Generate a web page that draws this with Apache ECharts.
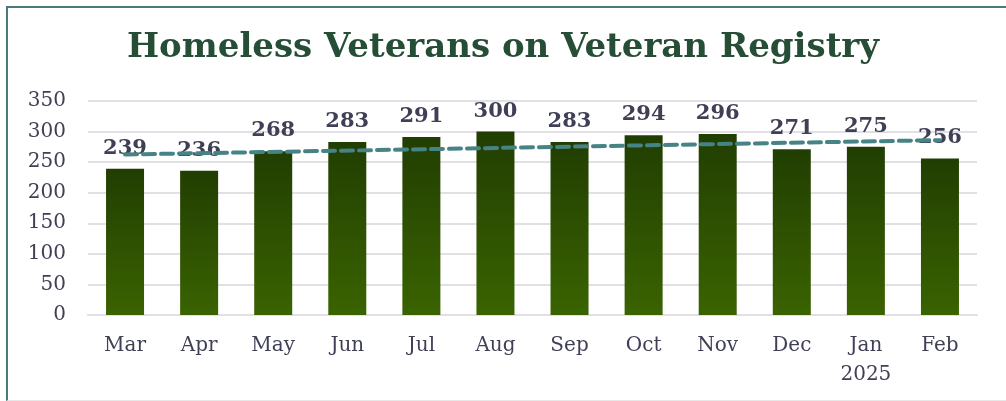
<!DOCTYPE html>
<html>
<head>
<meta charset="utf-8">
<script src="https://cdn.jsdelivr.net/npm/echarts@6/dist/echarts.min.js"></script>
<style>
html,body{margin:0;padding:0;background:#fff;}
#wrap{position:relative;width:1006px;height:401px;overflow:hidden;}
#chart{position:absolute;left:0;top:0;width:1006px;height:401px;}
#frame{position:absolute;left:6px;top:6px;width:1010px;height:392px;border-top:2px solid #4b7a7a;border-left:2px solid #4b7a7a;border-bottom:1px solid #e6e8e8;pointer-events:none;}
</style>
</head>
<body>
<div id="wrap"><div id="chart"></div><div id="frame"></div></div>
<script>
var titleText = 'Homeless Veterans on Veteran Registry';
var categories = ['Mar','Apr','May','Jun','Jul','Aug','Sep','Oct','Nov','Dec','Jan\n2025','Feb'];
var veterans = [239,236,268,283,291,300,283,294,296,271,275,256];
var trendStart = 262.5;
var trendEnd = 286;
var yMin = 0, yMax = 350, yStep = 50;

var trendData = categories.map(function(c,i){
  if(i===0) return trendStart;
  if(i===categories.length-1) return trendEnd;
  return null;
});

var serif = 'DejaVu Serif';
var chart = echarts.init(document.getElementById('chart'));
chart.setOption({
  animation:false,
  backgroundColor:'#fff',
  title:{
    text:titleText,
    left:'center',
    top:26,
    textStyle:{fontFamily:serif,fontWeight:'bold',fontSize:34,color:'#264d35'}
  },
  grid:{left:88,right:29,top:101,bottom:86},
  xAxis:{
    type:'category',
    data:categories,
    axisLine:{show:true,lineStyle:{color:'#e0e0e6',width:2}},
    axisTick:{show:false},
    axisLabel:{fontFamily:serif,fontSize:20,color:'#3f3f55',margin:16,lineHeight:29}
  },
  yAxis:{
    type:'value',
    min:yMin,max:yMax,interval:yStep,
    axisLine:{show:false},
    axisTick:{show:false},
    splitLine:{lineStyle:{color:'#e0e0e6',width:2}},
    axisLabel:{fontFamily:serif,fontSize:20,color:'#3f3f55',margin:22,padding:[7,0,0,0]}
  },
  series:[
    {
      type:'bar',
      data:veterans,
      barWidth:38,
      itemStyle:{color:new echarts.graphic.LinearGradient(0,0,0,1,[
        {offset:0,color:'#213e02'},
        {offset:1,color:'#3a6300'}
      ])},
      label:{show:true,position:'top',distance:10,fontFamily:serif,fontWeight:'bold',fontSize:21,color:'#3f3f55'},
      z:2
    },
    {
      type:'line',
      data:trendData,
      connectNulls:true,
      symbol:'none',
      lineStyle:{color:'#468385',width:4,type:[12,6],cap:'round'},
      z:3
    }
  ]
});
</script>
</body>
</html>
